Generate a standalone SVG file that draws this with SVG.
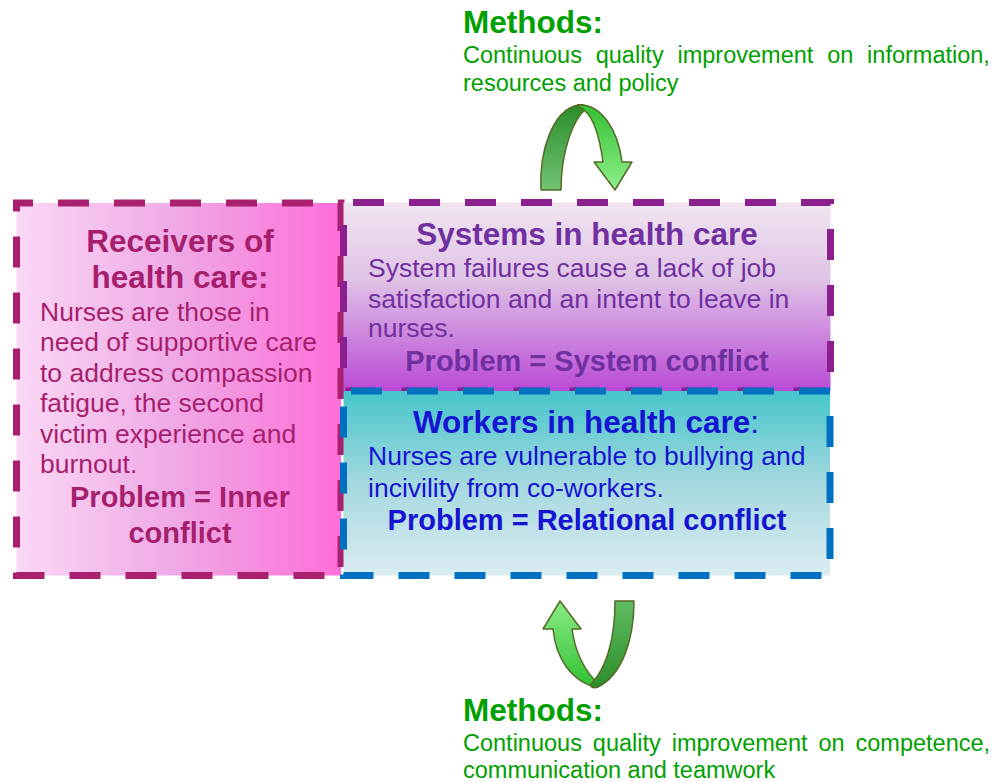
<svg xmlns="http://www.w3.org/2000/svg" width="1003" height="782" viewBox="0 0 1003 782">
<defs>
<linearGradient id="gLeft" x1="0" y1="0" x2="1" y2="0">
<stop offset="0" stop-color="#fbd8f5"/>
<stop offset="0.5" stop-color="#eea8e6"/>
<stop offset="1" stop-color="#ff6ed8"/>
</linearGradient>
<linearGradient id="gSys" x1="0" y1="0" x2="0" y2="1">
<stop offset="0" stop-color="#f1e5f1"/>
<stop offset="0.4" stop-color="#e0c4e6"/>
<stop offset="1" stop-color="#b94ad6"/>
</linearGradient>
<linearGradient id="gWork" x1="0" y1="0" x2="0" y2="1">
<stop offset="0" stop-color="#45c6cb"/>
<stop offset="0.5" stop-color="#a5d8df"/>
<stop offset="1" stop-color="#dbedf2"/>
</linearGradient>
<linearGradient id="gDarkUp" x1="0" y1="0" x2="0" y2="1">
<stop offset="0" stop-color="#2b8d2b"/>
<stop offset="1" stop-color="#72c472"/>
</linearGradient>
<linearGradient id="gBrightUp" x1="0" y1="0" x2="0" y2="1">
<stop offset="0" stop-color="#33c033"/>
<stop offset="1" stop-color="#90f08c"/>
</linearGradient>
<linearGradient id="gDarkDown" x1="0" y1="0" x2="0" y2="1">
<stop offset="0" stop-color="#60bc60"/>
<stop offset="1" stop-color="#2a8f2a"/>
</linearGradient>
<linearGradient id="gBrightDown" x1="0" y1="0" x2="0" y2="1">
<stop offset="0" stop-color="#8aec86"/>
<stop offset="1" stop-color="#32c032"/>
</linearGradient>
</defs>
<style>
.box{stroke-width:7;stroke-dasharray:31 25;}
.arr{stroke:#566a29;stroke-width:1.5;stroke-linejoin:round;}
text{font-family:"Liberation Sans",Arial,sans-serif;}
.title{font-size:31.5px;font-weight:bold;}
.prob{font-size:29px;font-weight:bold;}
.body{font-size:26.5px;}
.mt{font-size:31.5px;font-weight:bold;fill:#00a000;}
.mb{font-size:23.5px;fill:#00a000;}
.pink{fill:#a61f6d;}
.purp{fill:#7030a0;}
.blue{fill:#1414d2;}
</style>

<g id="receivers">
<rect x="16.5" y="203" width="324.5" height="372.5" fill="url(#gLeft)" stroke="#a8206e" class="box" stroke-dashoffset="14.5"/>
<text class="title pink" text-anchor="middle" x="180" y="252">Receivers of</text>
<text class="title pink" text-anchor="middle" x="180" y="288">health care:</text>
<text class="body pink" x="40" y="320.5">Nurses are those in</text>
<text class="body pink" x="40" y="351">need of supportive care</text>
<text class="body pink" x="40" y="381.5">to address compassion</text>
<text class="body pink" x="40" y="412">fatigue, the second</text>
<text class="body pink" x="40" y="442.5">victim experience and</text>
<text class="body pink" x="40" y="473">burnout.</text>
<text class="prob pink" text-anchor="middle" x="180" y="507">Problem = Inner</text>
<text class="prob pink" text-anchor="middle" x="180" y="543">conflict</text>
</g>

<g id="systems">
<rect x="343.5" y="202.5" width="487" height="188.5" fill="url(#gSys)" stroke="#8b1f8f" class="box" stroke-dashoffset="46.5"/>
<text class="title purp" text-anchor="middle" x="587" y="245">Systems in health care</text>
<text class="body purp" x="368" y="277.3">System failures cause a lack of job</text>
<text class="body purp" x="368" y="307.8">satisfaction and an intent to leave in</text>
<text class="body purp" x="368" y="337.3">nurses.</text>
<text class="prob purp" text-anchor="middle" x="587" y="370.5">Problem = System conflict</text>
</g>

<g id="workers">
<rect x="343.5" y="391" width="486.5" height="184.5" fill="url(#gWork)" stroke="#0070c0" class="box" stroke-dashoffset="48.5"/>
<text class="title blue" text-anchor="middle" x="586" y="433.3">Workers in health care<tspan font-weight="normal">:</tspan></text>
<text class="body blue" x="368" y="465">Nurses are vulnerable to bullying and</text>
<text class="body blue" x="368" y="496.5">incivility from co-workers.</text>
<text class="prob blue" text-anchor="middle" x="587" y="530">Problem = Relational conflict</text>
</g>

<g id="methods-top">
<text class="mt" x="463" y="33">Methods:</text>
<text class="mb" x="463" y="63" word-spacing="7.3">Continuous quality improvement on information,</text>
<text class="mb" x="463" y="90.5">resources and policy</text>
</g>

<g id="methods-bottom">
<text class="mt" x="463" y="721">Methods:</text>
<text class="mb" x="463" y="751" word-spacing="4.4">Continuous quality improvement on competence,</text>
<text class="mb" x="463" y="777.5">communication and teamwork</text>
</g>

<g id="connectors">
<g id="arrow-top">
<path class="arr" fill="url(#gDarkUp)" d="M541,190 C539,150 553,110 578,105 C583,104 587,106 586,109 C574,118 561,150 561,190 Z"/>
<path class="arr" fill="url(#gBrightUp)" d="M578,105 C601,103 618,130 622,162 L632,162 L615,190 L594,162 L603,162 C600,140 594,118 584,110 C581,108 577,106 578,105 Z"/>
</g>
<g id="arrow-bottom">
<path class="arr" fill="url(#gBrightDown)" d="M553,629 L543,629 L560,601 L581,629 L572,629 C575,652 585,672 598,683 C600,686 597,688 594,687 C572,680 556,660 553,629 Z"/>
<path class="arr" fill="url(#gDarkDown)" d="M615,601 L634,601 C634,640 622,675 598,687 C592,689 589,686 592,683 C606,668 615,640 615,601 Z"/>
</g>
</g>
</svg>
